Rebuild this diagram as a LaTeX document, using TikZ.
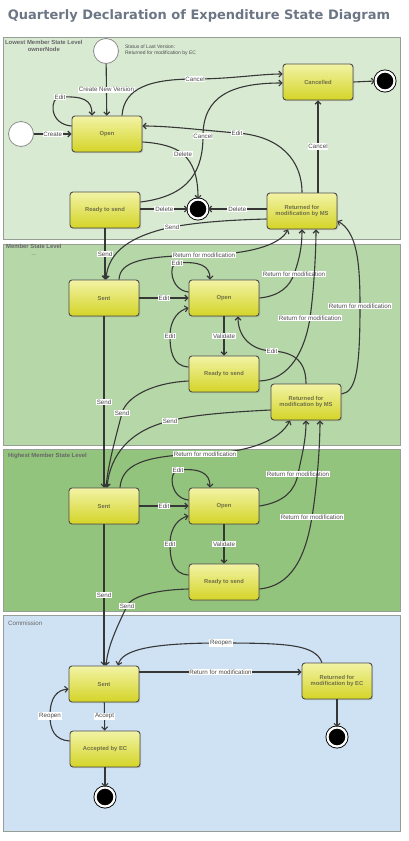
\documentclass[tikz,border=0pt]{standalone}
\usepackage{fontspec}
\setmainfont{Liberation Sans}
\newfontfamily\titlefont{DejaVu Sans}
\usetikzlibrary{arrows.meta,calc,shadows}
\tikzset{every picture/.style={line width=0.75pt}}

\definecolor{titlegray}{RGB}{108,118,132}
\definecolor{laneA}{RGB}{217,234,211}
\definecolor{laneB}{RGB}{182,215,168}
\definecolor{laneC}{RGB}{147,196,125}
\definecolor{laneD}{RGB}{207,226,243}
\definecolor{laneline}{RGB}{150,158,150}
\definecolor{boxtop}{RGB}{242,243,165}
\definecolor{boxbottom}{RGB}{212,212,40}
\definecolor{boxtext}{RGB}{112,112,70}
\definecolor{linegray}{RGB}{55,55,55}

\tikzset{
  lane/.style={draw=laneline, line width=0.8pt},
  lanetitle/.style={anchor=north west, inner sep=0.75pt, align=center, text=black!60, font=\bfseries\fontsize{5.9}{6.8}\selectfont},
  statebox/.style={rectangle, rounded corners=3pt, draw=black!70, line width=0.9pt, top color=boxtop, bottom color=boxbottom,
    minimum width=70pt, minimum height=36pt, align=center, text=boxtext, font=\bfseries\fontsize{5.8}{6.9}\selectfont,
    drop shadow={shadow xshift=1.2pt, shadow yshift=-1.2pt, opacity=0.3}},
  initstate/.style={circle, draw=black!45, line width=0.8pt, fill=white, minimum size=25pt, inner sep=0pt},
  finalstate/.style={circle, draw=black, double=white, double distance=2.2pt, line width=0.9pt, fill=black, minimum size=19pt, inner sep=0pt},
  trans/.style={draw=linegray, line width=1.1pt, -{Straight Barb[length=3pt,width=6pt]}},
  lbl/.style={fill=white, inner sep=0.8pt, text=black!70, font=\fontsize{6.2}{7}\selectfont}
}

\begin{document}
\begin{tikzpicture}[x=1pt,y=1pt,yscale=-1,xscale=1]
\useasboundingbox (0,0) rectangle (409,841);

% Text Node
\node[text=titlegray, font=\titlefont\bfseries\fontsize{13}{15}\selectfont] (title) at (199,16) {Quarterly Declaration of Expenditure State Diagram};

%Shape: Lanes
\draw[lane, fill=laneA] (3,37) rectangle (400,239);
\draw[lane, fill=laneB] (3,244) rectangle (400,445);
\draw[lane, fill=laneC] (3,449) rectangle (400,611);
\draw[lane, fill=laneD] (3,615) rectangle (400,831);
% Text Node
\node[lanetitle] (laneAtitle) at (4,39) {Lowest Member State Level\\ownerNode};
\node[lanetitle] (laneBtitle) at (5,243) {Member State Level\\\mdseries ...};
\node[lanetitle] (laneCtitle) at (7,452) {Highest Member State Level};
\node[lanetitle, font=\fontsize{6.2}{7}\selectfont] (laneDtitle) at (7,620) {Commission};

% Lowest Member State Level
\node[initstate] (initA) at (106,51) {};
\node[initstate] (initB) at (21,134) {};
\node[anchor=north west, inner sep=0.75pt, align=left, text=black!70, font=\fontsize{5}{5.6}\selectfont] (status) at (124,44) {Status of Last Version:\\Returned for modification by EC};
\node[statebox] (openA) at (107,134) {Open};
\node[statebox] (readyA) at (105,210) {Ready to send};
\node[statebox] (cancelled) at (318,82) {Cancelled};
\node[statebox] (retA) at (302,211) {Returned for\\modification by MS};
\node[finalstate] (endA) at (385,81) {};
\node[finalstate] (endB) at (198,209) {};

% Member State Level
\node[statebox] (sentB) at (104,298) {Sent};
\node[statebox] (openB) at (224,298) {Open};
\node[statebox] (readyB) at (224,374) {Ready to send};
\node[statebox] (retB) at (306,402) {Returned for\\modification by MS};

% Highest Member State Level
\node[statebox] (sentC) at (104,506) {Sent};
\node[statebox] (openC) at (224,506) {Open};
\node[statebox] (readyC) at (224,582) {Ready to send};

% Commission
\node[statebox] (sentD) at (104,684) {Sent};
\node[statebox] (retEC) at (337,681) {Returned for\\modification by EC};
\node[statebox] (accepted) at (105,749) {Accepted by EC};
\node[finalstate] (endC) at (337,737) {};
\node[finalstate] (endD) at (105,797) {};

%Straight Lines / Curve Lines: Lowest Member State Level
\draw[trans] (initA) -- node[lbl]{Create New Version} (openA);
\draw[trans] (initB) -- node[lbl]{Create} (openA);
\draw[trans] ($(openA.west)+(0,-8)$) .. controls (48,124) and (50,97) .. (60,97) node[lbl]{Edit} .. controls (84,96) and (92,100) .. ($(openA.north)+(-15,0)$);
\draw[trans] ($(openA.north)+(15,0)$) .. controls (124,88) and (150,79) .. (195,79) node[lbl]{Cancel} .. controls (230,79) and (260,74) .. ($(cancelled.west)+(0,-8)$);
\draw[trans] ($(readyA.east)+(0,-8)$) .. controls (190,196) and (203,170) .. (203,136) node[lbl]{Cancel} .. controls (203,96) and (232,83) .. ($(cancelled.west)+(0,1)$);
\draw[trans] (retA.north) .. controls (302,160) and (280,136) .. (237,133) node[lbl]{Edit} .. controls (200,130) and (170,126) .. ($(openA.east)+(0,-8)$);
\draw[trans] ($(retA.north)+(16,0)$) -- node[lbl]{Cancel} (cancelled.south);
\draw[trans] ($(openA.east)+(0,8)$) .. controls (160,143) and (175,147) .. (183,154) node[lbl]{Delete} .. controls (193,163) and (198,176) .. (endB.north);
\draw[trans] (readyA.east |- endB) -- node[lbl]{Delete} (endB.west);
\draw[trans] (retA.west |- endB) -- node[lbl]{Delete} (endB.east);
\draw[trans] (cancelled.east) -- (endA.west);
\draw[trans] (readyA.south) -- node[lbl]{Send} ($(sentB.north)+(1,0)$);
\draw[trans] ($(retA.west)+(0,8)$) .. controls (230,220) and (200,222) .. (172,227) node[lbl]{Send} .. controls (130,236) and (108,252) .. ($(sentB.north)+(2,0)$);

%Straight Lines / Curve Lines: Member State Level
\draw[trans] (sentB) -- node[lbl]{Edit} (openB);
\draw[trans] ($(sentB.north)+(15,0)$) .. controls (120,262) and (140,256) .. (204,255) node[lbl]{Return for modification} .. controls (250,254) and (280,245) .. ($(retA.south)+(-14,0)$);
\draw[trans] ($(openB.west)+(0,-6)$) .. controls (170,290) and (168,264) .. (177,263) node[lbl]{Edit} .. controls (200,261) and (210,266) .. ($(openB.north)+(-14,0)$);
\draw[trans] (openB.east) .. controls (280,296) and (290,286) .. (294,274) node[lbl]{Return for modification} .. controls (300,258) and (302,245) .. (retA.south);
\draw[trans] ($(readyB.east)+(0,7)$) .. controls (290,380) and (305,350) .. (310,318) node[lbl]{Return for modification} .. controls (314,290) and (316,250) .. ($(retA.south)+(14,0)$);
\draw[trans] ($(retB.east)+(0,-8)$) .. controls (356,392) and (360,370) .. (360,306) node[lbl]{Return for modification} .. controls (360,262) and (357,232) .. ($(retA.east)+(0,10)$);
\draw[trans] (openB) -- node[lbl]{Validate} (readyB);
\draw[trans] ($(readyB.west)+(0,-7)$) .. controls (172,366) and (170,350) .. (170,336) node[lbl]{Edit} .. controls (170,318) and (180,310) .. ($(openB.west)+(0,10)$);
\draw[trans] (retB.north) .. controls (306,362) and (295,352) .. (272,351) node[lbl]{Edit} .. controls (250,350) and (238,336) .. ($(openB.south)+(14,0)$);
\draw[trans] (sentB) -- node[lbl]{Send} (sentC);
\draw[trans] ($(readyB.west)+(0,7)$) .. controls (150,383) and (126,398) .. (122,413) node[lbl]{Send} .. controls (115,440) and (108,465) .. ($(sentC.north)+(2,0)$);
\draw[trans] ($(retB.west)+(0,8)$) .. controls (230,412) and (190,415) .. (170,421) node[lbl]{Send} .. controls (130,430) and (110,455) .. ($(sentC.north)+(3,0)$);

%Straight Lines / Curve Lines: Highest Member State Level
\draw[trans] (sentC) -- node[lbl]{Edit} (openC);
\draw[trans] ($(sentC.north)+(16,0)$) .. controls (122,466) and (140,455) .. (205,454) node[lbl]{Return for modification} .. controls (250,452) and (280,440) .. ($(retB.south)+(-16,0)$);
\draw[trans] ($(openC.west)+(0,-6)$) .. controls (170,498) and (168,472) .. (178,470) node[lbl]{Edit} .. controls (200,468) and (210,473) .. ($(openC.north)+(-14,0)$);
\draw[trans] (openC.east) .. controls (285,502) and (295,490) .. (298,474) node[lbl]{Return for modification} .. controls (302,455) and (306,440) .. (retB.south);
\draw[trans] ($(readyC.east)+(0,7)$) .. controls (290,586) and (305,560) .. (312,517) node[lbl]{Return for modification} .. controls (318,480) and (320,440) .. ($(retB.south)+(14,0)$);
\draw[trans] (openC) -- node[lbl]{Validate} (readyC);
\draw[trans] ($(readyC.west)+(0,-7)$) .. controls (172,574) and (170,558) .. (170,544) node[lbl]{Edit} .. controls (170,526) and (180,518) .. ($(openC.west)+(0,10)$);
\draw[trans] (sentC) -- node[lbl]{Send} (sentD);
\draw[trans] ($(readyC.west)+(0,7)$) .. controls (150,590) and (130,598) .. (127,606) node[lbl]{Send} .. controls (118,625) and (108,645) .. ($(sentD.north)+(2,0)$);

%Straight Lines / Curve Lines: Commission
\draw[trans] ($(sentD.east)+(0,-12)$) -- node[lbl]{Return for modification} ($(retEC.west)+(0,-9)$);
\draw[trans] ($(retEC.north)+(-15,0)$) .. controls (315,645) and (290,643) .. (221,643) node[lbl]{Reopen} .. controls (150,643) and (122,650) .. ($(sentD.north)+(14,0)$);
\draw[trans] (sentD) -- node[lbl]{Accept} (accepted);
\draw[trans] ($(accepted.west)+(0,-8)$) .. controls (55,740) and (50,730) .. (50,716) node[lbl]{Reopen} .. controls (50,696) and (58,690) .. ($(sentD.west)+(0,5)$);
\draw[trans] (retEC) -- (endC);
\draw[trans] (accepted) -- (endD);

\end{tikzpicture}
\end{document}
